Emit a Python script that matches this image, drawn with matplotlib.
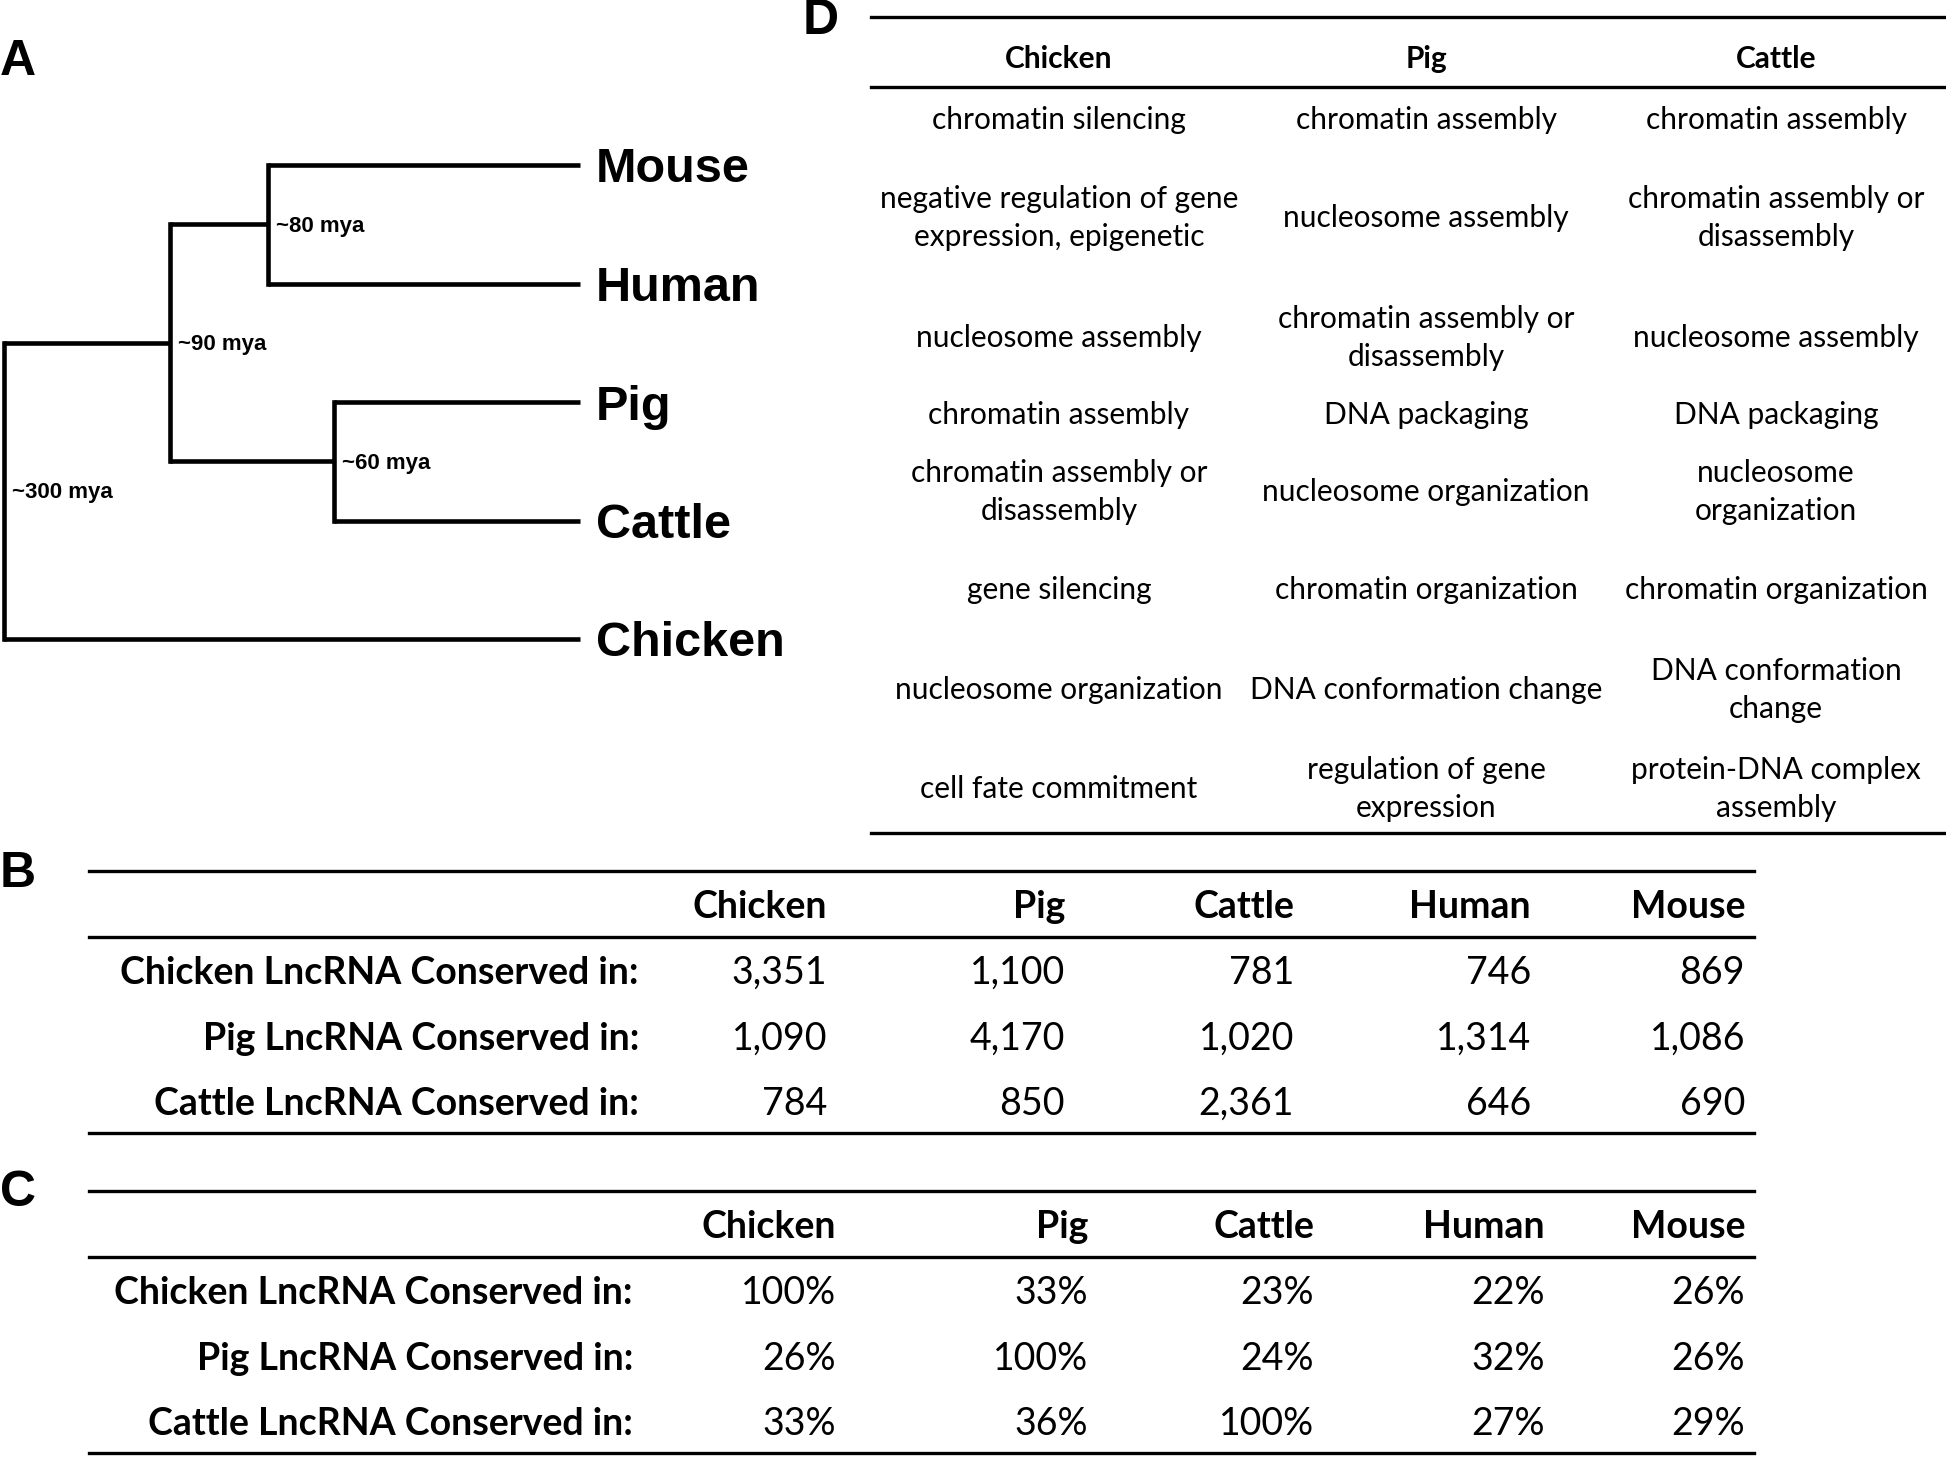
# Figure: lncRNA conservation tree + tables (panels A-D)
import matplotlib.pyplot as plt

# ---- data ----
tip_names = ['Mouse', 'Human', 'Pig', 'Cattle', 'Chicken']
# tree topology with divergence labels: (label, left, right)
tree = ('~300 mya', ('~90 mya', ('~80 mya', 'Mouse', 'Human'),
                     ('~60 mya', 'Pig', 'Cattle')), 'Chicken')
node_x = {'~300 mya': 4, '~90 mya': 170, '~80 mya': 268, '~60 mya': 334}

go_species = ['Chicken', 'Pig', 'Cattle']
go_chicken = ['chromatin silencing', 'negative regulation of gene\nexpression, epigenetic',
              'nucleosome assembly', 'chromatin assembly',
              'chromatin assembly or\ndisassembly', 'gene silencing',
              'nucleosome organization', 'cell fate commitment']
go_pig = ['chromatin assembly', 'nucleosome assembly', 'chromatin assembly or\ndisassembly',
          'DNA packaging', 'nucleosome organization', 'chromatin organization',
          'DNA conformation change', 'regulation of gene\nexpression']
go_cattle = ['chromatin assembly', 'chromatin assembly or\ndisassembly', 'nucleosome assembly',
             'DNA packaging', 'nucleosome\norganization', 'chromatin organization',
             'DNA conformation\nchange', 'protein-DNA complex\nassembly']

table_cols = ['Chicken', 'Pig', 'Cattle', 'Human', 'Mouse']
table_rows = ['Chicken LncRNA Conserved in:', 'Pig LncRNA Conserved in:',
              'Cattle LncRNA Conserved in:']
counts = [[3351, 1100, 781, 746, 869],
          [1090, 4170, 1020, 1314, 1086],
          [784, 850, 2361, 646, 690]]
percents = [[100, 33, 23, 22, 26],
            [26, 100, 24, 32, 26],
            [33, 36, 100, 27, 29]]

# ---- figure in pixel coordinates ----
W, H = 1946, 1457
fig = plt.figure(figsize=(W / 100, H / 100), dpi=100)
ax = fig.add_axes([0, 0, 1, 1])
ax.set_xlim(0, W)
ax.set_ylim(H, 0)
ax.axis('off')

arial = 'Liberation Sans'
calibri = 'Lato'

# panel letters
for letter, x, y in [('A', 0, 62), ('D', 803, 21), ('B', 0, 874), ('C', 0, 1193)]:
    ax.text(x, y, letter, fontsize=36, fontweight='bold', family=arial, va='center', ha='left')

# ---- A: tree ----
tip_y = {name: 165 + i * 118.5 for i, name in enumerate(tip_names)}
tip_end = 580
lw_tree = 3.3


def draw(node, parent_x):
    if isinstance(node, str):
        y = tip_y[node]
        ax.plot([parent_x, tip_end], [y, y], color='black', lw=lw_tree, solid_capstyle='butt')
        ax.text(tip_end + 16, y + 5, node, fontsize=35, fontweight='bold', family=arial,
                va='center', ha='left')
        return y
    label, left, right = node
    x = node_x[label]
    y1 = draw(left, x)
    y2 = draw(right, x)
    ax.plot([x, x], [y1, y2], color='black', lw=lw_tree, solid_capstyle='projecting')
    y = (y1 + y2) / 2
    if parent_x is not None:
        ax.plot([parent_x, x], [y, y], color='black', lw=lw_tree, solid_capstyle='butt')
    ax.text(x + 8, y + 2, label, fontsize=16, fontweight='bold', family=arial,
            va='center', ha='left')
    return y


draw(tree, None)

# ---- D: GO terms table ----
d_left, d_right = 871, 1946
d_cols = [1059, 1426, 1776]
d_rows = [118, 216, 336, 413, 490, 588, 688, 787]
rule_lw = 2.4
for yy in [17, 87, 833]:
    ax.plot([d_left, d_right], [yy, yy], color='black', lw=rule_lw)
for cx, name, terms in zip(d_cols, go_species, [go_chicken, go_pig, go_cattle]):
    ax.text(cx, 59, name, fontsize=21.5, fontweight='bold', family=calibri, ha='center', va='center')
    for ry, term in zip(d_rows, terms):
        ax.text(cx, ry + 2, term, fontsize=21.5, family=calibri, ha='center', va='center',
                linespacing=1.45)


# ---- B and C: conservation tables ----
def draw_table(top, values, col_right, label_right, fmt):
    left, right = 89, 1754
    header_y = top + 36
    for yy in [top, top + 66, top + 262]:
        ax.plot([left, right], [yy, yy], color='black', lw=rule_lw)
    for cx, name in zip(col_right, table_cols):
        ax.text(cx, header_y, name, fontsize=27, fontweight='bold', family=calibri,
                ha='right', va='center')
    for i, (rname, row) in enumerate(zip(table_rows, values)):
        ry = top + 102 + i * 65.5
        ax.text(label_right, ry, rname, fontsize=27, fontweight='bold', family=calibri,
                ha='right', va='center')
        for cx, v in zip(col_right, row):
            ax.text(cx, ry, fmt(v), fontsize=27, family=calibri, ha='right', va='center')


draw_table(871, counts, [827, 1065, 1294, 1531, 1745], 639, lambda v: f'{v:,}')
draw_table(1191, percents, [836, 1088, 1314, 1545, 1745], 633, lambda v: f'{v}%')

fig.savefig('out.png', dpi=100)
